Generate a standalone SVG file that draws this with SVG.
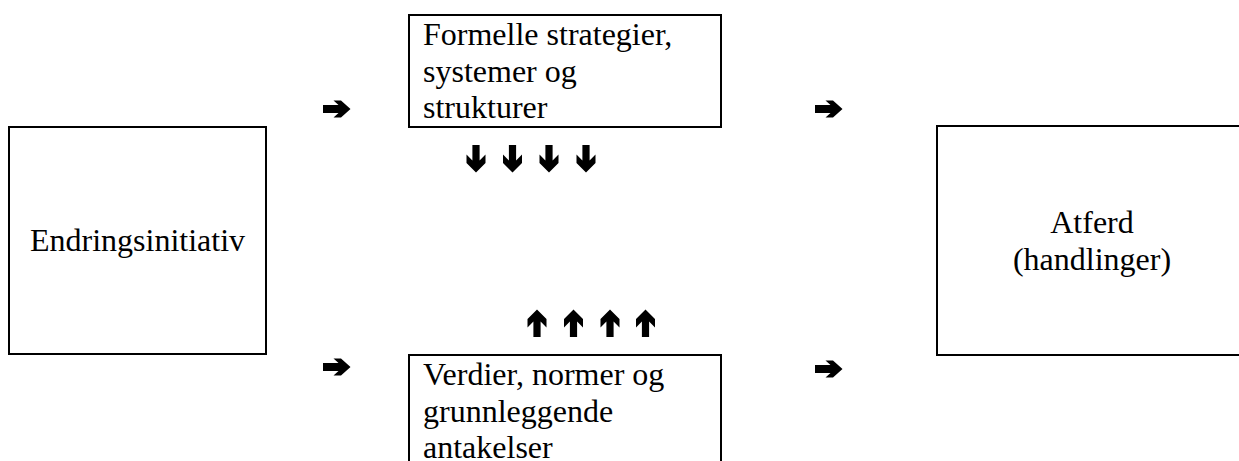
<svg xmlns="http://www.w3.org/2000/svg" width="1239" height="461" viewBox="0 0 1239 461">
  <style>
    .box { fill: #ffffff; stroke: #000000; stroke-width: 2; }
    .lbl { font-family: "Liberation Serif", "Times New Roman", serif; font-size: 32px; fill: #000000; }
    .arr { fill: #000000; }
  </style>
  <defs>
    <polygon id="arrowH" class="arr" points="0,-4 15.5,-4 10.5,-8.5 18,-8.5 27.5,0 18,8.5 10.5,8.5 15.5,4 0,4"/>
    <polygon id="arrowV" class="arr" points="0,-3.6 15.5,-3.6 9.5,-9.5 18,-9.5 27.5,0 18,9.5 9.5,9.5 15.5,3.6 0,3.6"/>
  </defs>
  <rect width="1239" height="461" fill="#ffffff"/>

  <g id="node-endringsinitiativ">
    <rect class="box" x="9" y="127" width="257" height="227"/>
    <text class="lbl" x="137.5" y="251" text-anchor="middle">Endringsinitiativ</text>
  </g>

  <g id="node-formelle">
    <rect class="box" x="409" y="15" width="312" height="112"/>
    <text class="lbl" x="423" y="45">Formelle strategier,</text>
    <text class="lbl" x="423" y="81.5">systemer og</text>
    <text class="lbl" x="423" y="118">strukturer</text>
  </g>

  <g id="node-verdier">
    <rect class="box" x="409" y="355" width="312" height="120"/>
    <text class="lbl" x="423" y="385">Verdier, normer og</text>
    <text class="lbl" x="423" y="421.5">grunnleggende</text>
    <text class="lbl" x="423" y="457.5">antakelser</text>
  </g>

  <g id="node-atferd">
    <rect class="box" x="937" y="126" width="320" height="229"/>
    <text class="lbl" x="1092" y="233" text-anchor="middle">Atferd</text>
    <text class="lbl" x="1092" y="270" text-anchor="middle">(handlinger)</text>
  </g>

  <g id="connectors">
    <use href="#arrowH" transform="translate(323,109)"/>
    <use href="#arrowH" transform="translate(323,367)"/>
    <use href="#arrowH" transform="translate(815,109)"/>
    <use href="#arrowH" transform="translate(815,369)"/>
    <use href="#arrowV" transform="translate(476,145) rotate(90)"/>
    <use href="#arrowV" transform="translate(512.5,145) rotate(90)"/>
    <use href="#arrowV" transform="translate(549,145) rotate(90)"/>
    <use href="#arrowV" transform="translate(586,145) rotate(90)"/>
    <use href="#arrowV" transform="translate(537,337) rotate(-90)"/>
    <use href="#arrowV" transform="translate(573.5,337) rotate(-90)"/>
    <use href="#arrowV" transform="translate(610,337) rotate(-90)"/>
    <use href="#arrowV" transform="translate(645.5,337) rotate(-90)"/>
  </g>
</svg>
